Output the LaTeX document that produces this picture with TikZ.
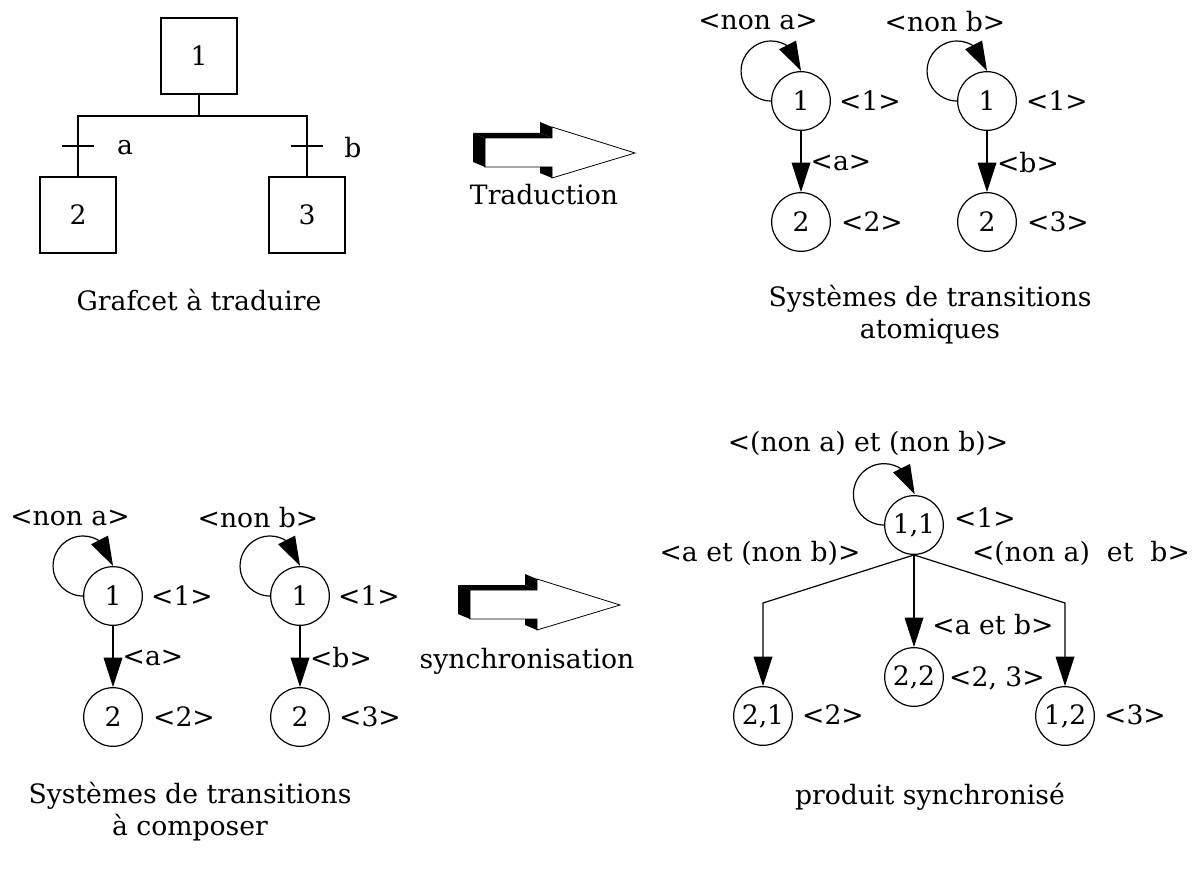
\documentclass[tikz,border=0pt]{standalone}
\usepackage{fontspec}
\setmainfont{DejaVu Serif}
\usetikzlibrary{arrows.meta,bending}
\begin{document}
\begin{tikzpicture}[x=0.75pt,y=-0.75pt,
  every node/.style={font=\fontsize{20}{24}\selectfont, inner sep=0pt},
  stepbox/.style={draw, line width=1.8pt, minimum size=57pt},
  state/.style={draw, circle, line width=0.9pt, minimum size=44pt},
  conn/.style={line width=0.9pt},
  arr/.style={line width=0.9pt, -{Triangle[length=22pt,width=14pt]}},
  looparr/.style={line width=0.9pt, -{Triangle[length=22pt,width=14pt,flex]}},
  blockarrow/.pic={
    \draw[line width=0.6pt, fill=white] (-150,-15) -- (-83,-15) -- (-83,-26) -- (0,0) -- (-83,25) -- (-83,14) -- (-150,14) -- cycle;
    \fill[black] (-162,-20) -- (-150,-15) -- (-150,14) -- (-162,9) -- cycle;
    \fill[black] (-162,-20) -- (-95,-20) -- (-83,-15) -- (-150,-15) -- cycle;
    \fill[black] (-95,-31) -- (-83,-26) -- (-83,-15) -- (-95,-20) -- cycle;
    \fill[black] (-95,14) -- (-83,14) -- (-83,25) -- (-95,20) -- cycle;
  }
]
\useasboundingbox (0,0) rectangle (1195,870);

% ---------- Grafcet ----------
\node[stepbox] (g1) at (199,56) {1};
\node[stepbox] (g2) at (78,215) {2};
\node[stepbox] (g3) at (307,215) {3};
\coordinate (gj) at (199,116);
\coordinate (ta) at (78,146);
\coordinate (tb) at (307,146);
\draw[conn] (g1.south) -- (gj);
\draw[conn] (g2.north) |- (gj) -| (g3.north);
\draw[line width=1.2pt] ([xshift=-12pt]ta) -- ([xshift=12pt]ta);
\draw[line width=1.2pt] ([xshift=-12pt]tb) -- ([xshift=12pt]tb);
\node (la) at (125,148) {a};
\node (lb) at (353,148) {b};
\node (tg) at (199,300) {Grafcet à traduire};

% ---------- Traduction arrow ----------
\coordinate (tip1) at (635,153);
\pic at (tip1) {blockarrow};
\node (ttrad) at (544,195) {Traduction};

% ---------- Atomic systems ----------
\node[state] (A1) at (801,101) {1};
\node[state] (A2) at (801,222) {2};
\draw[looparr] (A1.west) arc[start angle=270, end angle=0, radius=22.5pt];
\draw[arr] (A1) -- (A2);
\node (A1l) at (758,22) {<non a>};
\node (A1r) at (870,101) {<1>};
\node (A2e) at (841,163) {<a>};
\node (A2r) at (872,222) {<2>};

\node[state] (B1) at (987,101) {1};
\node[state] (B2) at (987,222) {2};
\draw[looparr] (B1.west) arc[start angle=270, end angle=0, radius=22.5pt];
\draw[arr] (B1) -- (B2);
\node (B1l) at (945,22) {<non b>};
\node (B1r) at (1057,101) {<1>};
\node (B2e) at (1028,163) {<b>};
\node (B2r) at (1058,222) {<3>};

\node[align=center] (tat) at (930,315) {Systèmes de transitions\\atomiques};

% ---------- Systems to compose ----------
\node[state] (C1) at (113,596) {1};
\node[state] (C2) at (113,717) {2};
\draw[looparr] (C1.west) arc[start angle=270, end angle=0, radius=22.5pt];
\draw[arr] (C1) -- (C2);
\node (C1l) at (70,518) {<non a>};
\node (C1r) at (182,596) {<1>};
\node (C2e) at (153,658) {<a>};
\node (C2r) at (184,717) {<2>};

\node[state] (D1) at (300,596) {1};
\node[state] (D2) at (300,717) {2};
\draw[looparr] (D1.west) arc[start angle=270, end angle=0, radius=22.5pt];
\draw[arr] (D1) -- (D2);
\node (D1l) at (258,518) {<non b>};
\node (D1r) at (369,596) {<1>};
\node (D2e) at (341,658) {<b>};
\node (D2r) at (370,717) {<3>};

\node[align=center] (tcomp) at (190,812) {Systèmes de transitions\\à composer};

% ---------- Synchronisation arrow ----------
\coordinate (tip2) at (620,605);
\pic at (tip2) {blockarrow};
\node (tsync) at (527,661) {synchronisation};

% ---------- Synchronised product ----------
\node[state] (P11) at (914,525) {1,1};
\node[state] (P21) at (763,716) {2,1};
\node[state] (P22) at (914,677) {2,2};
\node[state] (P12) at (1065,716) {1,2};
\coordinate (cl) at (763,603);
\coordinate (cr) at (1065,603);
\draw[looparr] (P11.west) arc[start angle=270, end angle=0, radius=23pt];
\draw[arr] (P11.south) -- (cl) -- (P21.north);
\draw[arr] (P11) -- (P22);
\draw[arr] (P11.south) -- (cr) -- (P12.north);
\node (P11l) at (868,443) {<(non a) et (non b)>};
\node (P11r) at (985,518) {<1>};
\node (P21e) at (760,553) {<a et (non b)>};
\node (P12e) at (1081,553) {<(non a)\ \ et\ \ b>};
\node (P22e) at (993,625) {<a et b>};
\node (P21r) at (833,715) {<2>};
\node (P22r) at (997,678) {<2, 3>};
\node (P12r) at (1135,715) {<3>};

\node (tprod) at (930,797) {produit synchronisé};
\end{tikzpicture}
\end{document}
